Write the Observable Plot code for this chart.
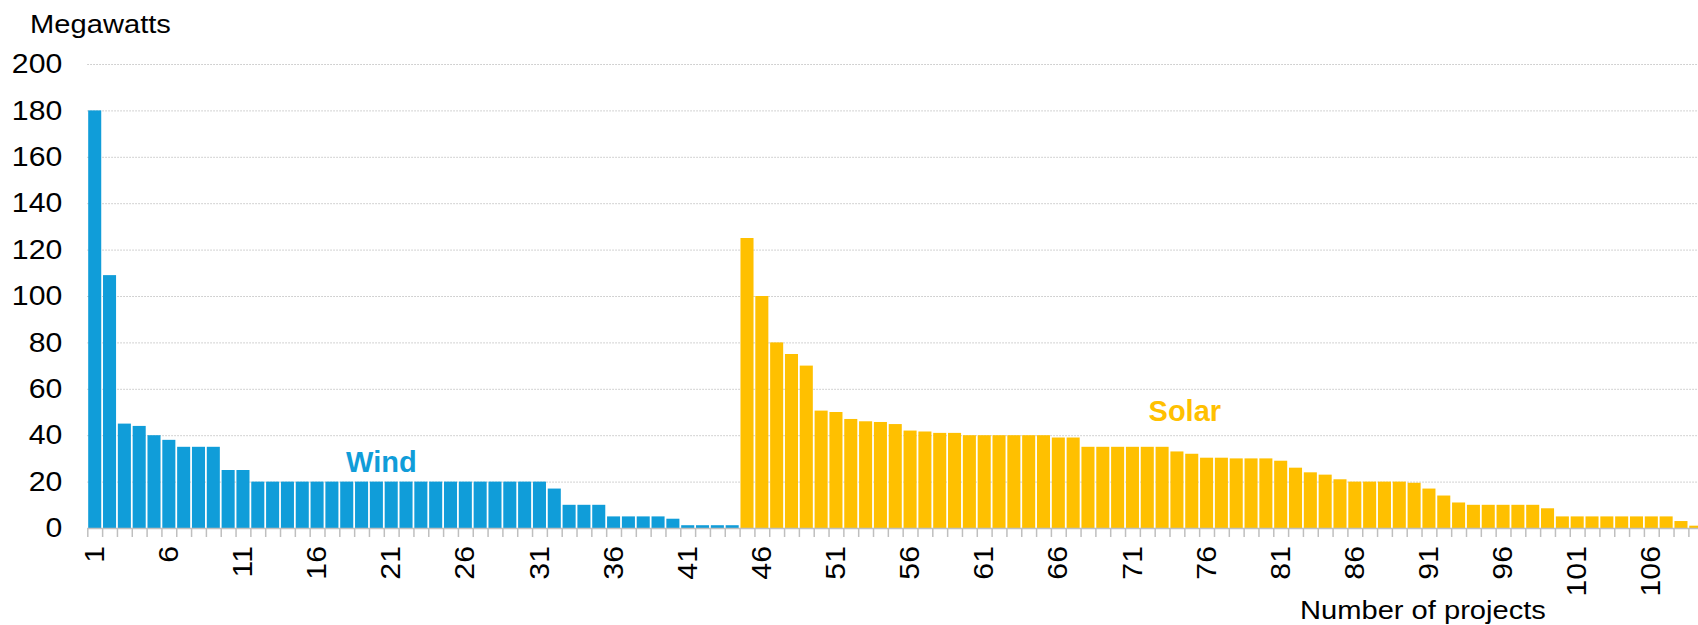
<!DOCTYPE html>
<html>
<head>
<meta charset="utf-8">
<script src="https://cdn.jsdelivr.net/npm/d3@7"></script>
<script src="https://cdn.jsdelivr.net/npm/@observablehq/plot@0.6"></script>
<style>
  html, body { margin: 0; padding: 0; background: #ffffff; overflow: hidden; }
  #chart svg { display: block; }
</style>
</head>
<body>
<div id="chart"></div>
<script>
// Wind projects (1-44), megawatts
const windMW = [
  180, 109, 45, 44, 40, 38, 35, 35, 35, 25,
  25, 20, 20, 20, 20, 20, 20, 20, 20, 20,
  20, 20, 20, 20, 20, 20, 20, 20, 20, 20,
  20, 17, 10, 10, 10, 5, 5, 5, 5, 4,
  1.2, 1.2, 1.2, 1.2
];
// Solar projects (45-109), megawatts
const solarMW = [
  125, 100, 80, 75, 70, 50.6, 50, 47, 46, 45.7,
  44.8, 42, 41.6, 41, 41, 40, 40, 40, 40, 40,
  40, 39, 39, 35, 35, 35, 35, 35, 35, 33,
  32, 30.3, 30.3, 30, 30, 30, 29, 26, 24, 23,
  21, 20, 20, 20, 20, 19.5, 17, 14, 11, 10,
  10, 10, 10, 10, 8.5, 5, 5, 5, 5, 5,
  5, 5, 5, 3, 1
];
const seriesNames = ["Wind", "Solar"];
const yTicks = [0, 20, 40, 60, 80, 100, 120, 140, 160, 180, 200];
const xTickLabels = [1, 6, 11, 16, 21, 26, 31, 36, 41, 46, 51, 56, 61, 66, 71, 76, 81, 86, 91, 96, 101, 106];
const seriesLabels = [
  {name: "Wind", project: 20.3, mw: 28.4},
  {name: "Solar", project: 74.5, mw: 50.3}
];
const yTitle = "Megawatts";
const xTitle = "Number of projects";

const data = windMW.map((v, i) => ({n: i + 1, mw: v, type: "Wind"}))
  .concat(solarMW.map((v, i) => ({n: windMW.length + i + 1, mw: v, type: "Solar"})));

const W = 1698, H = 625;
const mL = 87.3, mR = -5.2, mT = 64, mB = 97;
const pxPerUnit = (H - mT - mB) / 200;
const tickLen = 9;
const halfBar = 0.44;
const textStretch = 1.12;
const boundaries = d3.range(0, data.length + 1).map(i => i + 0.5);

const font = "'Liberation Sans', Arial, sans-serif";

const chart = Plot.plot({
  width: W,
  height: H,
  marginLeft: mL,
  marginRight: mR,
  marginTop: mT,
  marginBottom: mB,
  style: {fontFamily: font, fontSize: "27px", color: "#000", background: "#fff"},
  x: {type: "linear", domain: [0.5, data.length + 0.5], axis: null},
  y: {domain: [0, 200], axis: null},
  color: {domain: seriesNames, range: ["#109DD9", "#FFC000"]},
  marks: [
    Plot.ruleY(yTicks.filter(d => d > 0), {stroke: "#c4c4c4", strokeWidth: 1, strokeDasharray: "1.5,1.5"}),
    Plot.rectY(data, {x1: d => d.n - halfBar, x2: d => d.n + halfBar, y1: 0, y2: "mw", fill: "type"}),
    Plot.ruleY([0], {stroke: "#bfbfbf", strokeWidth: 1.5}),
    Plot.ruleX(boundaries, {x: d => d, y1: 0, y2: -tickLen / pxPerUnit, stroke: "#bfbfbf", strokeWidth: 1.5}),
    Plot.axisY(yTicks, {tickSize: 0, tickPadding: 25.5, label: null, fill: "#000"}),
    Plot.axisX(xTickLabels, {tickSize: 0, tickPadding: 17.5, tickRotate: -90, label: null, fill: "#000"}),
    Plot.text(seriesLabels, {x: "project", y: "mw", text: "name", fill: "name", fontWeight: "bold", fontSize: 29}),
    Plot.text([yTitle], {frameAnchor: "top-left", textAnchor: "start", lineAnchor: "middle", fontSize: 26, dx: -57.7, dy: -40, fill: "#000"}),
    Plot.text([xTitle], {frameAnchor: "bottom-left", textAnchor: "start", lineAnchor: "middle", fontSize: 26, dx: 1212.2, dy: 82, fill: "#000"})
  ]
});
// widen the regular-weight text slightly along its reading direction, about its anchor point
const stretchText = function() {
  const t = this.getAttribute("transform") || "";
  this.setAttribute("transform", `${t} scale(${textStretch},1)`);
};
d3.select(chart)
  .selectAll('g[aria-label="y-axis tick label"] text, g[aria-label="x-axis tick label"] text')
  .each(stretchText);
d3.select(chart)
  .selectAll('g[aria-label="text"] text')
  .filter(function() { return this.textContent === yTitle || this.textContent === xTitle; })
  .each(stretchText);
document.getElementById("chart").appendChild(chart);
</script>
</body>
</html>
